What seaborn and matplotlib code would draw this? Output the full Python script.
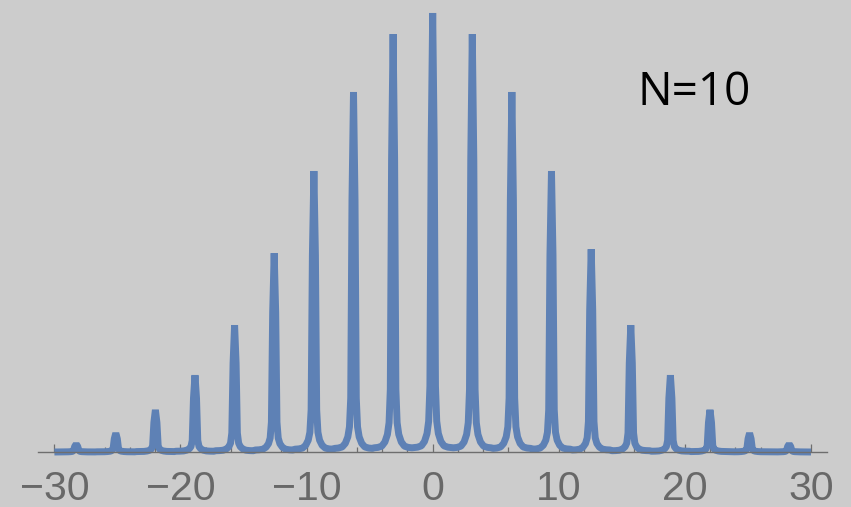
import numpy as np
import pandas as pd
import seaborn as sns
import matplotlib.pyplot as plt
from matplotlib.ticker import MultipleLocator

# Principal maxima of the N=10 grating pattern
peak_x = [-28.27, -25.13, -21.99, -18.85, -15.71, -12.57, -9.42, -6.28, -3.14, 0.0,
          3.14, 6.28, 9.42, 12.57, 15.71, 18.85, 21.99, 25.13, 28.27]
peak_h = [1.8, 4.3, 9.6, 17.5, 28.9, 45.3, 64.0, 82.0, 95.2, 100.0,
          95.2, 82.0, 64.0, 46.2, 28.9, 17.5, 9.6, 4.3, 1.8]
# Half-profile of one peak: offset from the peak and height relative to the peak
profile_dx = [0.0, 0.12, 0.22, 0.32, 0.45, 0.65, 0.9, 1.2, 1.5]
profile_rel = [1.0, 0.7, 0.15, 0.07, 0.042, 0.024, 0.014, 0.011, 0.01]
x_range = [-30.0, 30.0]
tick_major = 10
tick_minor = 2
label_text = "N=10"

xs, ys = [x_range[0]], [0.0]
for p, h in zip(peak_x, peak_h):
    for dx, r in zip(profile_dx[::-1], profile_rel[::-1]):
        xs.append(p - dx); ys.append(h * r)
    for dx, r in zip(profile_dx[1:], profile_rel[1:]):
        xs.append(p + dx); ys.append(h * r)
xs.append(x_range[1]); ys.append(0.0)
df = pd.DataFrame({"x": xs, "I": ys})

sns.set_style("white", {"axes.facecolor": "#cccccc", "figure.facecolor": "#cccccc"})
plt.rcParams['font.family'] = ['Liberation Sans', 'DejaVu Sans']

W, H = 851, 507
fig = plt.figure(figsize=(W / 100, H / 100), dpi=100)
ax = fig.add_axes([38 / W, (H - 452) / H, 789 / W, 452 / H])
ax.set_facecolor("#cccccc")

sns.lineplot(data=df, x="x", y="I", ax=ax, color="#5e81b5", linewidth=5.0,
             estimator=None, sort=False)
for ln in ax.get_lines():
    ln.set_solid_joinstyle("bevel")
    ln.set_solid_capstyle("butt")
    ln.set_clip_on(False)

ax.set_xlim(-31.3, 31.27)
ax.set_ylim(0, 100 * 452 / 439)
for s in ["top", "right", "left"]:
    ax.spines[s].set_visible(False)
ax.spines["bottom"].set_color("#6e6e6e")
ax.spines["bottom"].set_linewidth(1.0)
ax.xaxis.set_major_locator(MultipleLocator(tick_major))
ax.xaxis.set_minor_locator(MultipleLocator(tick_minor))
ax.tick_params(axis="x", which="major", direction="in", length=6, width=0.9,
               color="#6e6e6e", labelsize=29.5, labelcolor="#686868", pad=13, bottom=True)
ax.tick_params(axis="x", which="minor", direction="in", length=3.8, width=0.9,
               color="#6e6e6e", bottom=True)
ax.set_yticks([])
ax.set_xlabel("")
ax.set_ylabel("")

fig.text(637 / W, 1 - 105 / H, label_text, ha="left", va="baseline",
         fontsize=33, color="black", family=["Open Sans", "DejaVu Sans"])

fig.savefig("out.png", dpi=100, facecolor="#cccccc")
